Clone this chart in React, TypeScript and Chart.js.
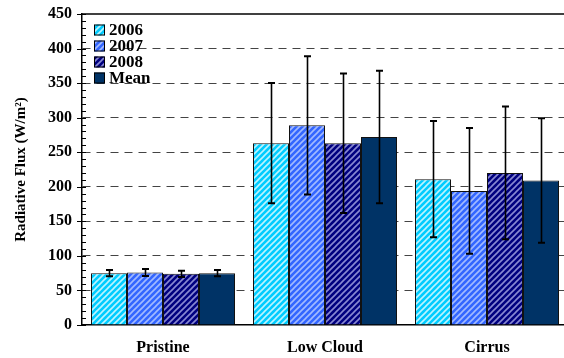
import { useEffect, useRef } from 'react';
import { Chart, registerables } from 'chart.js';

Chart.register(...registerables);

// Radiative flux by sky condition, three years plus their mean
const categories = ['Pristine', 'Low Cloud', 'Cirrus'];
const seriesNames = ['2006', '2007', '2008', 'Mean'];

const flux2006 = [75, 263, 211];
const flux2007 = [76, 289, 194];
const flux2008 = [74, 263, 220];
const fluxMean = [75, 272, 209];

const err2006 = [4.5, 87, 84];
const err2007 = [5, 100, 91];
const err2008 = [4.5, 101, 96];
const errMean = [4.5, 96, 90];

const yMax = 450;
const yStep = 50;
const yMinorStep = 10;

const SERIF = "'Liberation Serif', 'Times New Roman', serif";

function stripePattern(ctx: CanvasRenderingContext2D, base: string, stripe: string | null) {
  if (!stripe) return base;
  const s = 6;
  const c = document.createElement('canvas');
  c.width = s;
  c.height = s;
  const g = c.getContext('2d')!;
  g.fillStyle = base;
  g.fillRect(0, 0, s, s);
  g.strokeStyle = stripe;
  g.lineWidth = 1.6;
  g.beginPath();
  g.moveTo(-1, s + 1);
  g.lineTo(s + 1, -1);
  g.moveTo(-1, 1);
  g.lineTo(1, -1);
  g.moveTo(s - 1, s + 1);
  g.lineTo(s + 1, s - 1);
  g.stroke();
  return ctx.createPattern(c, 'repeat') || base;
}

export default function App() {
  const canvasRef = useRef<HTMLCanvasElement | null>(null);

  useEffect(() => {
    const canvas = canvasRef.current;
    if (!canvas) return;
    const ctx = canvas.getContext('2d')!;

    const values = [flux2006, flux2007, flux2008, fluxMean];
    const errors = [err2006, err2007, err2008, errMean];
    const fills = [
      stripePattern(ctx, '#00ccff', 'rgba(220,250,255,0.85)'),
      stripePattern(ctx, '#3366ff', 'rgba(200,215,255,0.75)'),
      stripePattern(ctx, '#000080', 'rgba(170,170,230,0.8)'),
      stripePattern(ctx, '#003366', null),
    ];

    const errorBarPlugin = {
      id: 'errorBars',
      afterDatasetsDraw(chart: any) {
        const c = chart.ctx;
        const y = chart.scales.y;
        c.save();
        c.strokeStyle = '#000';
        errors.forEach((errs, d) => {
          const meta = chart.getDatasetMeta(d);
          meta.data.forEach((bar: any, i: number) => {
            const v = values[d][i];
            const top = y.getPixelForValue(v + errs[i]);
            const bot = y.getPixelForValue(v - errs[i]);
            const x = Math.round(bar.x) + 0.5;
            c.lineWidth = 1.6;
            c.beginPath();
            c.moveTo(x, top);
            c.lineTo(x, bot);
            c.stroke();
            c.lineWidth = 2;
            c.beginPath();
            c.moveTo(x - 3.5, top);
            c.lineTo(x + 3.5, top);
            c.moveTo(x - 3.5, bot);
            c.lineTo(x + 3.5, bot);
            c.stroke();
          });
        });
        c.restore();
      },
    };

    const framePlugin = {
      id: 'frame',
      afterDraw(chart: any) {
        const c = chart.ctx;
        const area = chart.chartArea;
        const y = chart.scales.y;
        c.save();
        c.strokeStyle = '#000';
        c.lineWidth = 1.5;
        c.beginPath();
        c.moveTo(area.left, area.top);
        c.lineTo(area.right + 20, area.top);
        c.stroke();
        c.lineWidth = 1;
        for (let v = 0; v <= yMax; v += yMinorStep) {
          const py = Math.round(y.getPixelForValue(v)) + 0.5;
          const major = v % yStep === 0;
          c.beginPath();
          c.moveTo(area.left - (major ? 5 : 0), py);
          c.lineTo(area.left + 4, py);
          c.stroke();
        }
        c.restore();
      },
    };

    const legendPlugin = {
      id: 'insideLegend',
      afterDraw(chart: any) {
        const c = chart.ctx;
        const area = chart.chartArea;
        c.save();
        c.font = `bold 17px ${SERIF}`;
        c.textBaseline = 'middle';
        c.textAlign = 'left';
        chart.data.datasets.forEach((ds: any, i: number) => {
          const cy = area.top + 16 + i * 16;
          const bx = area.left + 12;
          c.fillStyle = ds.backgroundColor;
          c.fillRect(bx, cy - 5.5, 11, 11);
          c.strokeStyle = '#000';
          c.lineWidth = 1;
          c.strokeRect(bx + 0.5, cy - 5, 10, 10);
          c.fillStyle = '#000';
          c.fillText(ds.label, bx + 15, cy + 1);
        });
        c.restore();
      },
    };

    const chart = new Chart(canvas, {
      type: 'bar',
      data: {
        labels: categories,
        datasets: seriesNames.map((name, d) => ({
          label: name,
          data: values[d],
          backgroundColor: fills[d] as any,
          borderColor: '#111',
          borderWidth: 1,
          categoryPercentage: 144 / 162,
          barPercentage: 1,
        })),
      },
      options: {
        responsive: false,
        animation: false,
        devicePixelRatio: 1,
        layout: { padding: { top: 14, right: 12, left: 0, bottom: 0 } },
        plugins: {
          legend: { display: false },
          tooltip: { enabled: false },
        },
        scales: {
          x: {
            grid: { display: false, drawTicks: false },
            border: { display: true, color: '#000', width: 1.5 },
            ticks: {
              color: '#000',
              padding: 13,
              font: { family: SERIF, size: 16, weight: 'bold' },
            },
            afterFit(scale: any) {
              scale.height = 33;
            },
          },
          y: {
            min: 0,
            max: yMax,
            grid: {
              drawTicks: false,
              lineWidth: 1,
              color: (c: any) =>
                c.tick && (c.tick.value === 0 || c.tick.value === yMax) ? 'rgba(0,0,0,0)' : '#444',
            },
            border: { display: true, color: '#000', width: 1.5, dash: [8, 6] },
            ticks: {
              stepSize: yStep,
              color: '#000',
              padding: 10,
              font: { family: SERIF, size: 16, weight: 'bold' },
            },
            title: {
              display: true,
              text: 'Radiative Flux (W/m²)',
              color: '#000',
              padding: { top: 12, bottom: 0 },
              font: { family: SERIF, size: 15, weight: 'bold' },
            },
            afterFit(scale: any) {
              scale.width = 82;
              // plot edges come from the layout padding alone
              scale.paddingTop = 0;
              scale.paddingBottom = 0;
            },
          },
        },
      },
      plugins: [errorBarPlugin, framePlugin, legendPlugin],
    });

    return () => chart.destroy();
  }, []);

  return (
    <div
      style={{
        position: 'fixed',
        left: 0,
        top: 0,
        width: 564,
        height: 358,
        overflow: 'hidden',
        background: '#fff',
      }}
    >
      <canvas ref={canvasRef} width={580} height={358} />
    </div>
  );
}
